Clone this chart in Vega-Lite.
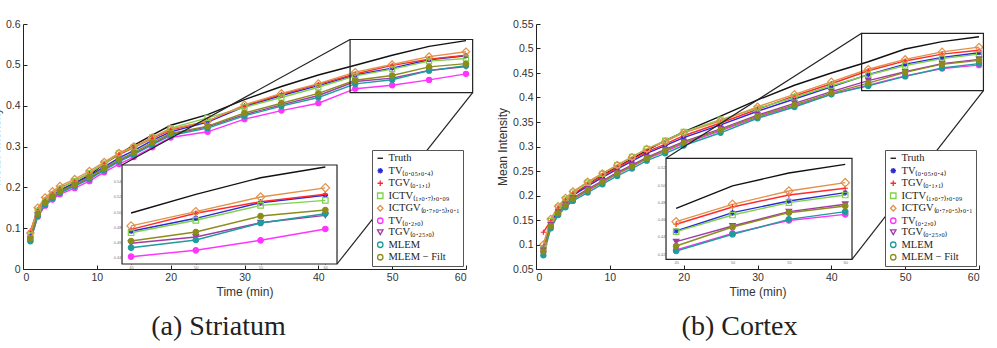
{
  "$schema": "https://vega.github.io/schema/vega-lite/v6.json",
  "padding": {"left": -11, "top": 19, "right": 5, "bottom": 0},
  "bounds": "flush",
  "spacing": 70,
  "datasets": {
    "striatum": [
      {"t": 1, "truth": 0.085, "tv1": 0.080, "tgv1": 0.093, "ictv": 0.082, "ictgv": 0.088, "tv2": 0.070, "tgv2": 0.073, "mlem": 0.068, "filt": 0.075},
      {"t": 2, "truth": 0.140, "tv1": 0.140, "tgv1": 0.145, "ictv": 0.143, "ictgv": 0.150, "tv2": 0.128, "tgv2": 0.132, "mlem": 0.130, "filt": 0.135},
      {"t": 3, "truth": 0.165, "tv1": 0.165, "tgv1": 0.170, "ictv": 0.168, "ictgv": 0.175, "tv2": 0.155, "tgv2": 0.160, "mlem": 0.157, "filt": 0.162},
      {"t": 4, "truth": 0.180, "tv1": 0.180, "tgv1": 0.185, "ictv": 0.183, "ictgv": 0.190, "tv2": 0.170, "tgv2": 0.175, "mlem": 0.173, "filt": 0.178},
      {"t": 5, "truth": 0.192, "tv1": 0.193, "tgv1": 0.198, "ictv": 0.197, "ictgv": 0.203, "tv2": 0.183, "tgv2": 0.188, "mlem": 0.186, "filt": 0.190},
      {"t": 7, "truth": 0.210, "tv1": 0.210, "tgv1": 0.215, "ictv": 0.215, "ictgv": 0.220, "tv2": 0.198, "tgv2": 0.205, "mlem": 0.203, "filt": 0.207},
      {"t": 9, "truth": 0.230, "tv1": 0.228, "tgv1": 0.235, "ictv": 0.235, "ictgv": 0.240, "tv2": 0.215, "tgv2": 0.222, "mlem": 0.220, "filt": 0.225},
      {"t": 11, "truth": 0.258, "tv1": 0.250, "tgv1": 0.258, "ictv": 0.258, "ictgv": 0.262, "tv2": 0.237, "tgv2": 0.244, "mlem": 0.242, "filt": 0.247},
      {"t": 13, "truth": 0.282, "tv1": 0.272, "tgv1": 0.280, "ictv": 0.283, "ictgv": 0.284, "tv2": 0.257, "tgv2": 0.265, "mlem": 0.263, "filt": 0.268},
      {"t": 15, "truth": 0.303, "tv1": 0.290, "tgv1": 0.297, "ictv": 0.298, "ictgv": 0.300, "tv2": 0.274, "tgv2": 0.282, "mlem": 0.280, "filt": 0.285},
      {"t": 17.5, "truth": 0.328, "tv1": 0.315, "tgv1": 0.320, "ictv": 0.322, "ictgv": 0.322, "tv2": 0.298, "tgv2": 0.306, "mlem": 0.304, "filt": 0.310},
      {"t": 20, "truth": 0.352, "tv1": 0.336, "tgv1": 0.340, "ictv": 0.345, "ictgv": 0.343, "tv2": 0.322, "tgv2": 0.330, "mlem": 0.327, "filt": 0.332},
      {"t": 25, "truth": 0.378, "tv1": 0.360, "tgv1": 0.362, "ictv": 0.370, "ictgv": 0.362, "tv2": 0.336, "tgv2": 0.348, "mlem": 0.345, "filt": 0.350},
      {"t": 30, "truth": 0.415, "tv1": 0.398, "tgv1": 0.400, "ictv": 0.396, "ictgv": 0.402, "tv2": 0.367, "tgv2": 0.378, "mlem": 0.375, "filt": 0.382},
      {"t": 35, "truth": 0.447, "tv1": 0.425, "tgv1": 0.428, "ictv": 0.420, "ictgv": 0.430, "tv2": 0.388, "tgv2": 0.402, "mlem": 0.399, "filt": 0.406},
      {"t": 40, "truth": 0.475, "tv1": 0.449, "tgv1": 0.452, "ictv": 0.445, "ictgv": 0.454, "tv2": 0.406, "tgv2": 0.425, "mlem": 0.420, "filt": 0.430},
      {"t": 45, "truth": 0.499, "tv1": 0.475, "tgv1": 0.4775, "ictv": 0.473, "ictgv": 0.482, "tv2": 0.4416, "tgv2": 0.4592, "mlem": 0.4534, "filt": 0.4622},
      {"t": 50, "truth": 0.5235, "tv1": 0.492, "tgv1": 0.4986, "ictv": 0.4894, "ictgv": 0.5007, "tv2": 0.450, "tgv2": 0.4674, "mlem": 0.4635, "filt": 0.474},
      {"t": 55, "truth": 0.5453, "tv1": 0.5125, "tgv1": 0.5138, "ictv": 0.509, "ictgv": 0.520, "tv2": 0.4631, "tgv2": 0.4862, "mlem": 0.4858, "filt": 0.495},
      {"t": 60, "truth": 0.5594, "tv1": 0.5222, "tgv1": 0.5235, "ictv": 0.5156, "ictgv": 0.532, "tv2": 0.478, "tgv2": 0.4959, "mlem": 0.498, "filt": 0.5029}
    ],
    "cortex": [
      {"t": 1, "truth": 0.090, "tv1": 0.095, "tgv1": 0.125, "ictv": 0.092, "ictgv": 0.100, "tv2": 0.085, "tgv2": 0.088, "mlem": 0.078, "filt": 0.086},
      {"t": 2, "truth": 0.145, "tv1": 0.143, "tgv1": 0.148, "ictv": 0.148, "ictgv": 0.152, "tv2": 0.137, "tgv2": 0.140, "mlem": 0.133, "filt": 0.138},
      {"t": 3, "truth": 0.170, "tv1": 0.170, "tgv1": 0.174, "ictv": 0.175, "ictgv": 0.178, "tv2": 0.163, "tgv2": 0.166, "mlem": 0.160, "filt": 0.164},
      {"t": 4, "truth": 0.188, "tv1": 0.186, "tgv1": 0.190, "ictv": 0.192, "ictgv": 0.195, "tv2": 0.179, "tgv2": 0.182, "mlem": 0.176, "filt": 0.180},
      {"t": 5, "truth": 0.200, "tv1": 0.200, "tgv1": 0.203, "ictv": 0.206, "ictgv": 0.208, "tv2": 0.192, "tgv2": 0.195, "mlem": 0.189, "filt": 0.193},
      {"t": 7, "truth": 0.222, "tv1": 0.219, "tgv1": 0.222, "ictv": 0.226, "ictgv": 0.228, "tv2": 0.210, "tgv2": 0.213, "mlem": 0.206, "filt": 0.211},
      {"t": 9, "truth": 0.242, "tv1": 0.237, "tgv1": 0.240, "ictv": 0.244, "ictgv": 0.245, "tv2": 0.227, "tgv2": 0.230, "mlem": 0.223, "filt": 0.228},
      {"t": 11, "truth": 0.258, "tv1": 0.254, "tgv1": 0.257, "ictv": 0.262, "ictgv": 0.262, "tv2": 0.244, "tgv2": 0.247, "mlem": 0.240, "filt": 0.245},
      {"t": 13, "truth": 0.275, "tv1": 0.270, "tgv1": 0.273, "ictv": 0.279, "ictgv": 0.278, "tv2": 0.259, "tgv2": 0.262, "mlem": 0.255, "filt": 0.260},
      {"t": 15, "truth": 0.292, "tv1": 0.286, "tgv1": 0.289, "ictv": 0.295, "ictgv": 0.295, "tv2": 0.275, "tgv2": 0.278, "mlem": 0.271, "filt": 0.276},
      {"t": 17.5, "truth": 0.312, "tv1": 0.302, "tgv1": 0.305, "ictv": 0.312, "ictgv": 0.310, "tv2": 0.290, "tgv2": 0.294, "mlem": 0.286, "filt": 0.292},
      {"t": 20, "truth": 0.330, "tv1": 0.318, "tgv1": 0.322, "ictv": 0.330, "ictgv": 0.328, "tv2": 0.306, "tgv2": 0.310, "mlem": 0.302, "filt": 0.308},
      {"t": 25, "truth": 0.362, "tv1": 0.344, "tgv1": 0.348, "ictv": 0.355, "ictgv": 0.352, "tv2": 0.332, "tgv2": 0.336, "mlem": 0.328, "filt": 0.334},
      {"t": 30, "truth": 0.395, "tv1": 0.372, "tgv1": 0.376, "ictv": 0.378, "ictgv": 0.381, "tv2": 0.360, "tgv2": 0.364, "mlem": 0.3576, "filt": 0.362},
      {"t": 35, "truth": 0.425, "tv1": 0.397, "tgv1": 0.403, "ictv": 0.400, "ictgv": 0.4065, "tv2": 0.383, "tgv2": 0.388, "mlem": 0.3806, "filt": 0.385},
      {"t": 40, "truth": 0.450, "tv1": 0.422, "tgv1": 0.428, "ictv": 0.424, "ictgv": 0.432, "tv2": 0.407, "tgv2": 0.412, "mlem": 0.4065, "filt": 0.409},
      {"t": 45, "truth": 0.473, "tv1": 0.4468, "tgv1": 0.4546, "ictv": 0.446, "ictgv": 0.4576, "tv2": 0.425, "tgv2": 0.4344, "mlem": 0.4236, "filt": 0.4294},
      {"t": 50, "truth": 0.499, "tv1": 0.468, "tgv1": 0.4746, "ictv": 0.4653, "ictgv": 0.4777, "tv2": 0.444, "tgv2": 0.4526, "mlem": 0.443, "filt": 0.4514},
      {"t": 55, "truth": 0.514, "tv1": 0.4816, "tgv1": 0.4885, "ictv": 0.4796, "ictgv": 0.4931, "tv2": 0.459, "tgv2": 0.4692, "mlem": 0.4603, "filt": 0.468},
      {"t": 60, "truth": 0.524, "tv1": 0.4912, "tgv1": 0.4963, "ictv": 0.4885, "ictgv": 0.5028, "tv2": 0.466, "tgv2": 0.4777, "mlem": 0.4692, "filt": 0.4758}
    ]
  },
  "hconcat": [
    {
      "width": 443,
      "height": 245,
      "data": {"name": "striatum"},
      "transform": [{"fold": ["truth", "tv1", "tgv1", "ictv", "ictgv", "tv2", "tgv2", "mlem", "filt"], "as": ["m", "v"]}],
      "title": {"text": "(a) Striatum", "orient": "bottom", "dx": -26, "offset": 15},
      "resolve": {"scale": {"x": "independent", "y": "independent"}, "axis": {"x": "independent", "y": "independent"}},
      "layer": [
        {
          "layer": [
            {
              "mark": {"type": "line", "strokeWidth": 1.4},
              "encoding": {
                "x": {"field": "t", "type": "quantitative", "scale": {"domain": [0, 60], "nice": false}, "axis": {"values": [0, 10, 20, 30, 40, 50, 60], "title": "Time (min)"}},
                "y": {"field": "v", "type": "quantitative", "scale": {"domain": [0, 0.6], "nice": false, "zero": false}, "axis": {"values": [0, 0.1, 0.2, 0.3, 0.4, 0.5, 0.6], "format": ".2~f", "labelOverlap": false, "title": "Mean Intensity"}},
                "color": {"field": "m", "type": "nominal", "scale": {"domain": ["truth", "tv1", "tgv1", "ictv", "ictgv", "tv2", "tgv2", "mlem", "filt"], "range": ["#111111", "#2b2bd6", "#ff2a2a", "#7fd14a", "#e0924a", "#ff33ff", "#a23aa8", "#1f9c9c", "#8c8c1c"]}, "legend": {"title": null, "labelExpr": "{'truth':'Truth','tv1':'TV₍₀.₀₅,₀.₄₎','tgv1':'TGV₍₀.₁,₁₎','ictv':'ICTV₍₁,₀.₇₎,₀.₀₉','ictgv':'ICTGV₍₀.₇,₀.₅₎,₀.₁','tv2':'TV₍₀.₂,₀₎','tgv2':'TGV₍₀.₂₅,₀₎','mlem':'MLEM','filt':'MLEM − Filt'}[datum.value]"}}
              }
            },
            {
              "transform": [{"filter": "datum.m !== 'truth'"}],
              "mark": {"type": "point", "filled": false, "strokeWidth": 1.2, "opacity": 1},
              "encoding": {
                "x": {"field": "t", "type": "quantitative"},
                "y": {"field": "v", "type": "quantitative"},
                "color": {"field": "m", "type": "nominal"},
                "shape": {"field": "m", "type": "nominal", "scale": {"domain": ["truth", "tv1", "tgv1", "ictv", "ictgv", "tv2", "tgv2", "mlem", "filt"], "range": ["stroke", "M-1,0L1,0M0,-1L0,1M-0.7,-0.7L0.7,0.7M-0.7,0.7L0.7,-0.7", "M-1,0L1,0M0,-1L0,1", "square", "diamond", "circle", "triangle-down", "circle", "circle"]}, "legend": {"title": null, "labelExpr": "{'truth':'Truth','tv1':'TV₍₀.₀₅,₀.₄₎','tgv1':'TGV₍₀.₁,₁₎','ictv':'ICTV₍₁,₀.₇₎,₀.₀₉','ictgv':'ICTGV₍₀.₇,₀.₅₎,₀.₁','tv2':'TV₍₀.₂,₀₎','tgv2':'TGV₍₀.₂₅,₀₎','mlem':'MLEM','filt':'MLEM − Filt'}[datum.value]"}},
                "fill": {"condition": [{"test": "datum.m === 'tv2'", "value": "#ff33ff"}, {"test": "datum.m === 'tgv2'", "value": "#a23aa8"}, {"test": "datum.m === 'mlem'", "value": "#1f9c9c"}, {"test": "datum.m === 'filt'", "value": "#8c8c1c"}], "value": "transparent"},
                "size": {"condition": {"test": "datum.m === 'ictgv'", "value": 55}, "value": 26}
              }
            },
            {
              "data": {"values": [{}]},
              "mark": {"type": "rect", "fill": null, "fillOpacity": 0, "stroke": "#222", "strokeWidth": 1.2},
              "encoding": {"x": {"datum": 44.3}, "x2": {"datum": 60.9}, "y": {"datum": 0.432}, "y2": {"datum": 0.562}}
            },
            {
              "data": {"values": [{}]},
              "mark": {"type": "rule", "stroke": "#222", "strokeWidth": 1.2},
              "encoding": {"x": {"datum": 44.3}, "y": {"datum": 0.562}, "x2": {"datum": 13.41}, "y2": {"datum": 0.2547}}
            },
            {
              "data": {"values": [{}]},
              "mark": {"type": "rule", "stroke": "#222", "strokeWidth": 1.2},
              "encoding": {"x": {"datum": 60.9}, "y": {"datum": 0.432}, "x2": {"datum": 42.53}, "y2": {"datum": 0.01224}}
            },
            {
              "data": {"values": [{}]},
              "mark": {"type": "rect", "fill": "white", "stroke": "#222", "strokeWidth": 1.2},
              "encoding": {"x": {"datum": 13.41}, "x2": {"datum": 42.53}, "y": {"datum": 0.01224}, "y2": {"datum": 0.2547}}
            }
          ]
        },
        {
          "transform": [{"filter": "datum.t >= 45"}],
          "layer": [
            {
              "mark": {"type": "line", "strokeWidth": 1.4},
              "encoding": {
                "x": {"field": "t", "type": "quantitative", "scale": {"domain": [44.3, 60.9], "range": [99, 314], "nice": false, "zero": false}, "axis": {"orient": "bottom", "offset": -5, "values": [45, 50, 55, 60], "title": null, "domain": false, "tickSize": -3, "labelPadding": 4, "labelFontSize": 4, "labelColor": "#777"}},
                "y": {"field": "v", "type": "quantitative", "scale": {"domain": [0.432, 0.562], "range": [240, 141], "nice": false, "zero": false}, "axis": {"orient": "left", "offset": -99, "values": [0.44, 0.46, 0.48, 0.5, 0.52, 0.54], "format": ".2f", "title": null, "domain": false, "tickSize": -3, "labelPadding": 4, "labelFontSize": 4, "labelColor": "#777"}},
                "color": {"field": "m", "type": "nominal"}
              }
            },
            {
              "transform": [{"filter": "datum.m !== 'truth'"}],
              "mark": {"type": "point", "filled": false, "strokeWidth": 1.2, "opacity": 1},
              "encoding": {
                "x": {"field": "t", "type": "quantitative"},
                "y": {"field": "v", "type": "quantitative"},
                "color": {"field": "m", "type": "nominal"},
                "shape": {"field": "m", "type": "nominal"},
                "fill": {"condition": [{"test": "datum.m === 'tv2'", "value": "#ff33ff"}, {"test": "datum.m === 'tgv2'", "value": "#a23aa8"}, {"test": "datum.m === 'mlem'", "value": "#1f9c9c"}, {"test": "datum.m === 'filt'", "value": "#8c8c1c"}], "value": "transparent"},
                "size": {"condition": {"test": "datum.m === 'ictgv'", "value": 70}, "value": 30}
              }
            }
          ]
        }
      ]
    },
    {
      "width": 443,
      "height": 245,
      "data": {"name": "cortex"},
      "transform": [{"fold": ["truth", "tv1", "tgv1", "ictv", "ictgv", "tv2", "tgv2", "mlem", "filt"], "as": ["m", "v"]}],
      "title": {"text": "(b) Cortex", "orient": "bottom", "dx": -18, "offset": 15},
      "resolve": {"scale": {"x": "independent", "y": "independent"}, "axis": {"x": "independent", "y": "independent"}},
      "layer": [
        {
          "layer": [
            {
              "mark": {"type": "line", "strokeWidth": 1.4},
              "encoding": {
                "x": {"field": "t", "type": "quantitative", "scale": {"domain": [0, 60], "nice": false}, "axis": {"values": [0, 10, 20, 30, 40, 50, 60], "title": "Time (min)"}},
                "y": {"field": "v", "type": "quantitative", "scale": {"domain": [0.05, 0.55], "nice": false, "zero": false}, "axis": {"values": [0.05, 0.1, 0.15, 0.2, 0.25, 0.3, 0.35, 0.4, 0.45, 0.5, 0.55], "format": ".2~f", "labelOverlap": false, "labelSeparation": 0, "tickCount": 11, "title": "Mean Intensity"}},
                "color": {"field": "m", "type": "nominal", "scale": {"domain": ["truth", "tv1", "tgv1", "ictv", "ictgv", "tv2", "tgv2", "mlem", "filt"], "range": ["#111111", "#2b2bd6", "#ff2a2a", "#7fd14a", "#e0924a", "#ff33ff", "#a23aa8", "#1f9c9c", "#8c8c1c"]}, "legend": {"title": null, "labelExpr": "{'truth':'Truth','tv1':'TV₍₀.₀₅,₀.₄₎','tgv1':'TGV₍₀.₁,₁₎','ictv':'ICTV₍₁,₀.₇₎,₀.₀₉','ictgv':'ICTGV₍₀.₇,₀.₅₎,₀.₁','tv2':'TV₍₀.₂,₀₎','tgv2':'TGV₍₀.₂₅,₀₎','mlem':'MLEM','filt':'MLEM − Filt'}[datum.value]"}}
              }
            },
            {
              "transform": [{"filter": "datum.m !== 'truth'"}],
              "mark": {"type": "point", "filled": false, "strokeWidth": 1.2, "opacity": 1},
              "encoding": {
                "x": {"field": "t", "type": "quantitative"},
                "y": {"field": "v", "type": "quantitative"},
                "color": {"field": "m", "type": "nominal"},
                "shape": {"field": "m", "type": "nominal", "scale": {"domain": ["truth", "tv1", "tgv1", "ictv", "ictgv", "tv2", "tgv2", "mlem", "filt"], "range": ["stroke", "M-1,0L1,0M0,-1L0,1M-0.7,-0.7L0.7,0.7M-0.7,0.7L0.7,-0.7", "M-1,0L1,0M0,-1L0,1", "square", "diamond", "circle", "triangle-down", "circle", "circle"]}, "legend": {"title": null, "labelExpr": "{'truth':'Truth','tv1':'TV₍₀.₀₅,₀.₄₎','tgv1':'TGV₍₀.₁,₁₎','ictv':'ICTV₍₁,₀.₇₎,₀.₀₉','ictgv':'ICTGV₍₀.₇,₀.₅₎,₀.₁','tv2':'TV₍₀.₂,₀₎','tgv2':'TGV₍₀.₂₅,₀₎','mlem':'MLEM','filt':'MLEM − Filt'}[datum.value]"}},
                "fill": {"condition": [{"test": "datum.m === 'tv2'", "value": "#ff33ff"}, {"test": "datum.m === 'tgv2'", "value": "#a23aa8"}, {"test": "datum.m === 'mlem'", "value": "#1f9c9c"}, {"test": "datum.m === 'filt'", "value": "#8c8c1c"}], "value": "transparent"},
                "size": {"condition": {"test": "datum.m === 'ictgv'", "value": 55}, "value": 26}
              }
            },
            {
              "data": {"values": [{}]},
              "mark": {"type": "rect", "fill": null, "fillOpacity": 0, "stroke": "#222", "strokeWidth": 1.2},
              "encoding": {"x": {"datum": 44.1}, "x2": {"datum": 60.6}, "y": {"datum": 0.414}, "y2": {"datum": 0.531}}
            },
            {
              "data": {"values": [{}]},
              "mark": {"type": "rule", "stroke": "#222", "strokeWidth": 1.2},
              "encoding": {"x": {"datum": 44.1}, "y": {"datum": 0.531}, "x2": {"datum": 17.61}, "y2": {"datum": 0.2759}}
            },
            {
              "data": {"values": [{}]},
              "mark": {"type": "rule", "stroke": "#222", "strokeWidth": 1.2},
              "encoding": {"x": {"datum": 60.6}, "y": {"datum": 0.414}, "x2": {"datum": 42.8}, "y2": {"datum": 0.0698}}
            },
            {
              "data": {"values": [{}]},
              "mark": {"type": "rect", "fill": "white", "stroke": "#222", "strokeWidth": 1.2},
              "encoding": {"x": {"datum": 17.61}, "x2": {"datum": 42.8}, "y": {"datum": 0.0698}, "y2": {"datum": 0.2759}}
            }
          ]
        },
        {
          "transform": [{"filter": "datum.t >= 45"}],
          "layer": [
            {
              "mark": {"type": "line", "strokeWidth": 1.4},
              "encoding": {
                "x": {"field": "t", "type": "quantitative", "scale": {"domain": [44.1, 60.6], "range": [130, 316], "nice": false, "zero": false}, "axis": {"orient": "bottom", "offset": -9.7, "values": [45, 50, 55, 60], "title": null, "domain": false, "tickSize": -3, "labelPadding": 4, "labelFontSize": 4, "labelColor": "#777"}},
                "y": {"field": "v", "type": "quantitative", "scale": {"domain": [0.414, 0.531], "range": [235.3, 134.3], "nice": false, "zero": false}, "axis": {"orient": "left", "offset": -130, "values": [0.42, 0.44, 0.46, 0.48, 0.5, 0.52], "format": ".2f", "title": null, "domain": false, "tickSize": -3, "labelPadding": 4, "labelFontSize": 4, "labelColor": "#777"}},
                "color": {"field": "m", "type": "nominal"}
              }
            },
            {
              "transform": [{"filter": "datum.m !== 'truth'"}],
              "mark": {"type": "point", "filled": false, "strokeWidth": 1.2, "opacity": 1},
              "encoding": {
                "x": {"field": "t", "type": "quantitative"},
                "y": {"field": "v", "type": "quantitative"},
                "color": {"field": "m", "type": "nominal"},
                "shape": {"field": "m", "type": "nominal"},
                "fill": {"condition": [{"test": "datum.m === 'tv2'", "value": "#ff33ff"}, {"test": "datum.m === 'tgv2'", "value": "#a23aa8"}, {"test": "datum.m === 'mlem'", "value": "#1f9c9c"}, {"test": "datum.m === 'filt'", "value": "#8c8c1c"}], "value": "transparent"},
                "size": {"condition": {"test": "datum.m === 'ictgv'", "value": 70}, "value": 30}
              }
            }
          ]
        }
      ]
    }
  ],
  "resolve": {"scale": {"color": "independent", "shape": "independent"}, "legend": {"color": "independent", "shape": "independent"}},
  "config": {
    "view": {"stroke": null},
    "font": "Liberation Sans",
    "title": {"font": "Liberation Serif", "fontSize": 28, "fontWeight": "normal", "color": "#222"},
    "axis": {"grid": false, "labelOverlap": false, "domainColor": "#222", "domainWidth": 1, "tickColor": "#222", "tickSize": -4, "labelPadding": 7, "labelFont": "Liberation Sans", "labelFontSize": 10.5, "labelColor": "#333", "titleFont": "Liberation Sans", "titleFontSize": 12, "titleFontWeight": "normal", "titleColor": "#333"},
    "axisX": {"titlePadding": 4},
    "axisY": {"titlePadding": 3},
    "legend": {"orient": "bottom-right", "offset": 3, "padding": 3, "rowPadding": 0.5, "labelFont": "Liberation Serif", "labelFontSize": 10.5, "labelColor": "#222", "strokeColor": "#555", "fillColor": "white", "symbolSize": 30, "symbolStrokeWidth": 1.3, "labelOffset": 3, "labelLimit": 200}
  }
}
